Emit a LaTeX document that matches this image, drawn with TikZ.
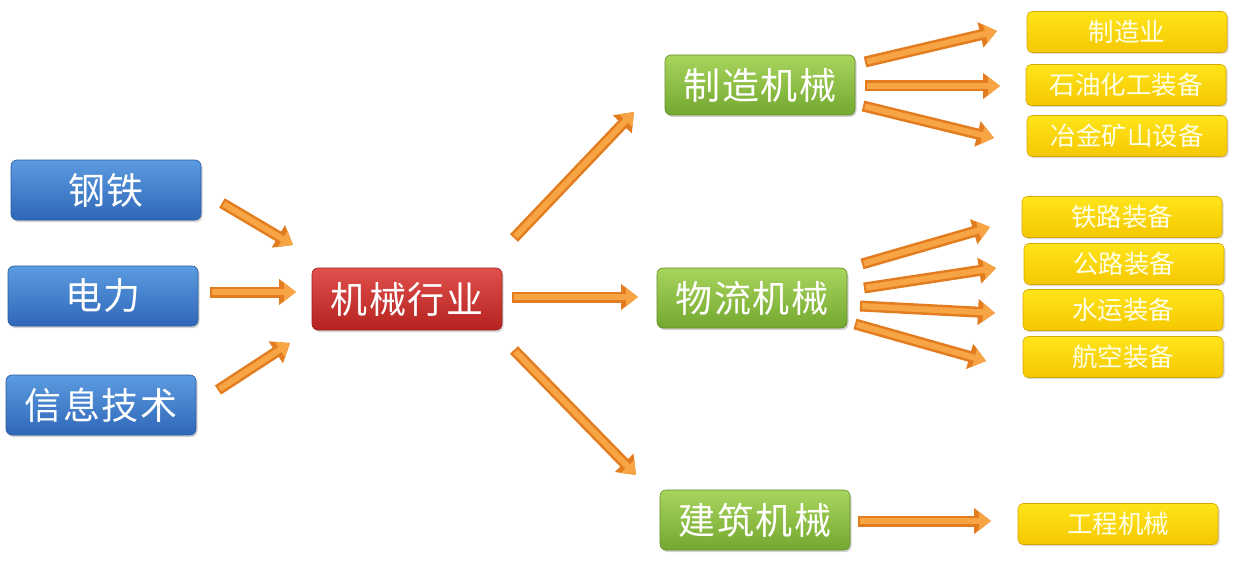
\documentclass[tikz,border=0pt]{standalone}
\usepackage{fontspec}
\newfontfamily\cjkbig[LetterSpace=4]{Noto Sans CJK SC}
\newfontfamily\cjksmall{Noto Sans CJK SC}
\usetikzlibrary{arrows.meta,shadows}
\definecolor{bluetop}{HTML}{5B9BE0}
\definecolor{bluebot}{HTML}{2F67B8}
\definecolor{redtop}{HTML}{E0504C}
\definecolor{redbot}{HTML}{B5221F}
\definecolor{greentop}{HTML}{A8D45C}
\definecolor{greenbot}{HTML}{74A830}
\definecolor{yeltop}{HTML}{FFE41A}
\definecolor{yelbot}{HTML}{F5C800}
\definecolor{yeledge}{HTML}{D9A800}
\definecolor{arrowout}{HTML}{E27C1E}
\definecolor{arrowin}{HTML}{F7A444}
\begin{document}
\begin{tikzpicture}[x=1pt,y=-1pt,
  box/.style={rounded corners=6pt, minimum width=190pt, minimum height=60pt, inner sep=0pt,
    font=\cjkbig\fontsize{37}{37}\selectfont, text=white,
    drop shadow={opacity=0.35,shadow xshift=1.5pt,shadow yshift=-2pt}},
  bluebox/.style={box, top color=bluetop, bottom color=bluebot, draw=bluebot!85!black, line width=0.6pt},
  redbox/.style={box, minimum height=62pt, top color=redtop, bottom color=redbot, draw=redbot!85!black, line width=0.6pt},
  greenbox/.style={box, top color=greentop, bottom color=greenbot, draw=greenbot!85!black, line width=0.6pt},
  yelbox/.style={rounded corners=5pt, minimum width=200pt, minimum height=41pt, inner sep=0pt,
    top color=yeltop, bottom color=yelbot, draw=yeledge, line width=0.6pt,
    font=\cjksmall\fontsize{25.5}{25.5}\selectfont, text=white!90!yellow,
    drop shadow={opacity=0.3,shadow xshift=1.5pt,shadow yshift=-1.5pt}},
  connout/.style={line width=11pt, draw=arrowout, -{Triangle[width=25pt,length=17pt]}},
  connin/.style={line width=6pt, draw=arrowin, shorten <=2pt, -{Triangle[width=18pt,length=12pt]}}
]
\useasboundingbox (0,0) rectangle (1233,567);

% left column
\node[bluebox] (gt) at (106,190) {钢铁};
\node[bluebox] (dl) at (103,296) {电力};
\node[bluebox] (xx) at (101,405) {信息技术};
% center
\node[redbox] (jx) at (407,299) {机械行业};
% middle column
\node[greenbox] (zz) at (760,85) {制造机械};
\node[greenbox] (wl) at (752,298) {物流机械};
\node[greenbox] (jz) at (755,520) {建筑机械};
% right column
\node[yelbox] (y1) at (1127,32) {制造业};
\node[yelbox] (y2) at (1126,85) {石油化工装备};
\node[yelbox] (y3) at (1127,136) {冶金矿山设备};
\node[yelbox] (y4) at (1122,217) {铁路装备};
\node[yelbox] (y5) at (1124,264) {公路装备};
\node[yelbox] (y6) at (1123,310) {水运装备};
\node[yelbox] (y7) at (1123,357) {航空装备};
\node[yelbox] (y8) at (1118,524) {工程机械};

% arrow end coordinates
\coordinate (a1s) at (222,203); \coordinate (a1e) at (293,245);
\coordinate (a2s) at (210,292); \coordinate (a2e) at (296,292);
\coordinate (a3s) at (218,390); \coordinate (a3e) at (290,343);
\coordinate (b1s) at (514,238); \coordinate (b1e) at (634,112);
\coordinate (b2s) at (512,297); \coordinate (b2e) at (638,297);
\coordinate (b3s) at (514,350); \coordinate (b3e) at (636,475);
\coordinate (c1s) at (865,62);  \coordinate (c1e) at (997,31);
\coordinate (c2s) at (865,86);  \coordinate (c2e) at (1000,86);
\coordinate (c3s) at (863,106); \coordinate (c3e) at (994,138);
\coordinate (d1s) at (862,264); \coordinate (d1e) at (990,227);
\coordinate (d2s) at (864,288); \coordinate (d2e) at (996,268);
\coordinate (d3s) at (860,306); \coordinate (d3e) at (995,313);
\coordinate (d4s) at (855,324); \coordinate (d4e) at (986,361);
\coordinate (e1s) at (858,521); \coordinate (e1e) at (991,521);

\foreach \a in {a1,a2,a3,b1,b2,b3,c1,c2,c3,d1,d2,d3,d4,e1}{
  \draw[connout] (\a s) -- (\a e);
  \draw[connin] (\a s) -- (\a e);
}
\end{tikzpicture}
\end{document}
